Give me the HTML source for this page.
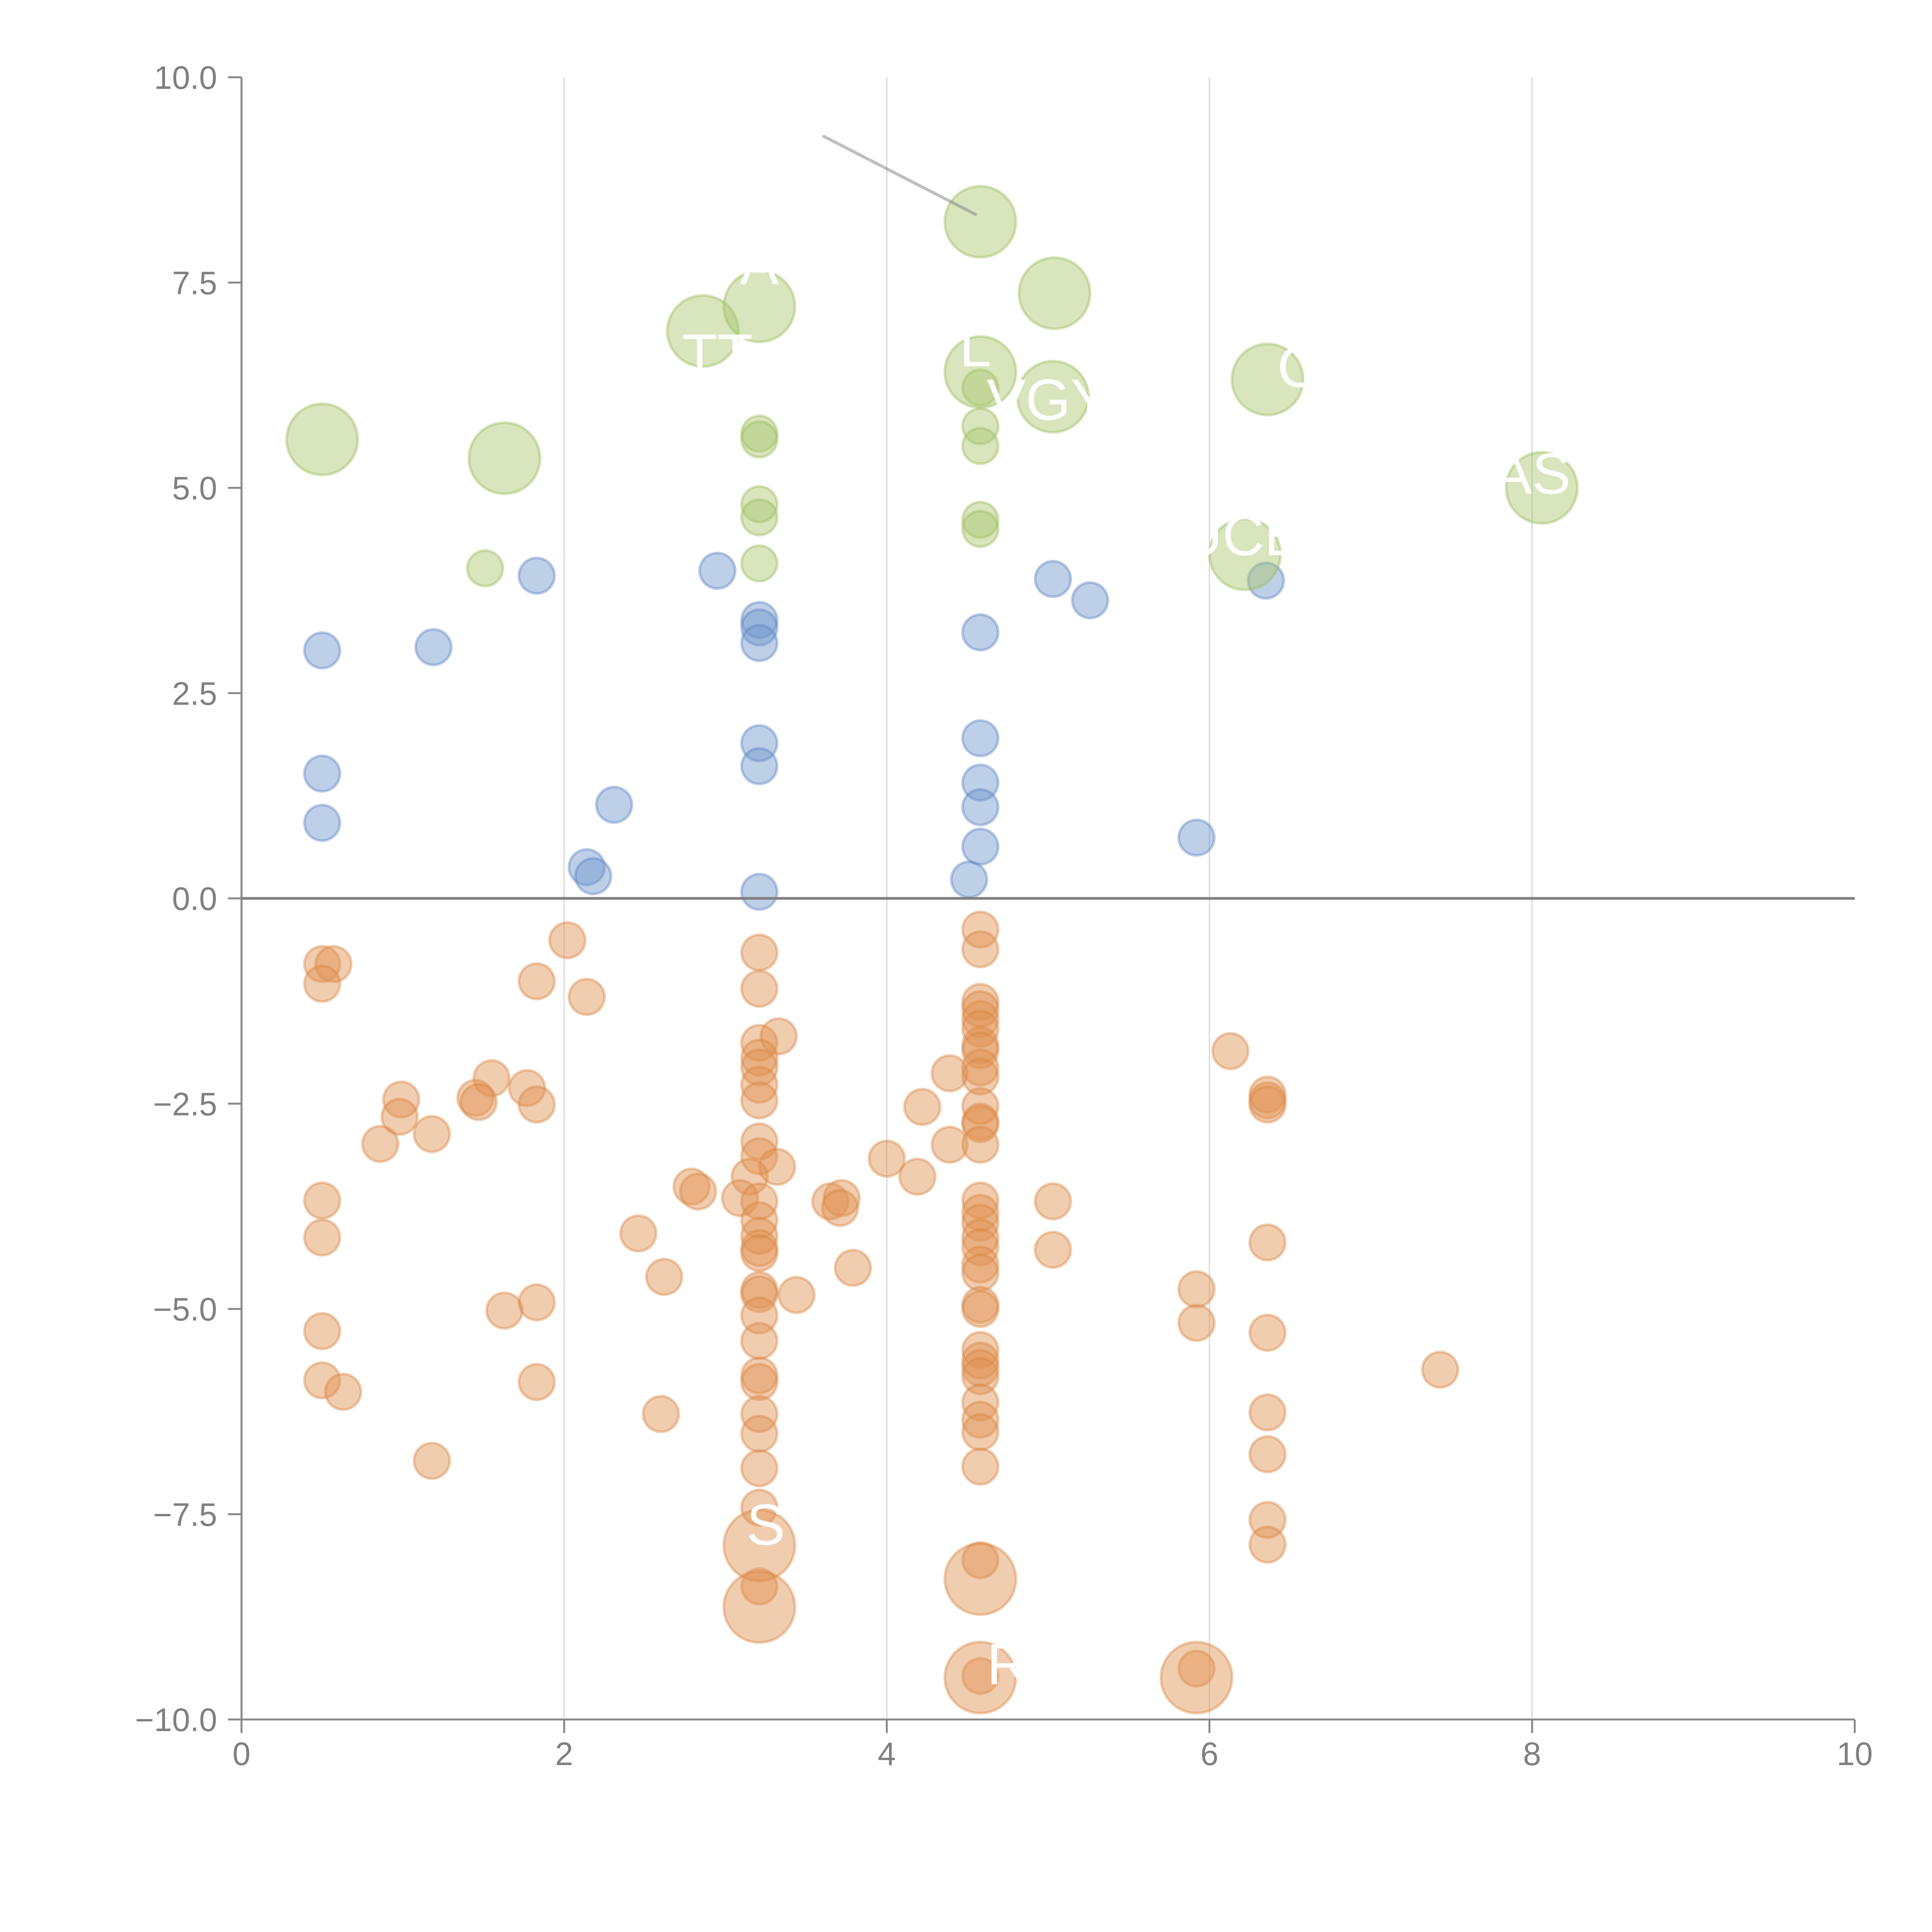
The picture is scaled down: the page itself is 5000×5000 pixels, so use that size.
<!DOCTYPE html>
<html><head><meta charset="utf-8"><style>
html,body{margin:0;padding:0;background:#fff;}
svg{display:block;font-family:"Liberation Sans",sans-serif;}
</style></head><body>
<svg id="chart" width="5000" height="5000" viewBox="0 0 5000 5000" xmlns="http://www.w3.org/2000/svg">
<rect width="5000" height="5000" fill="#fff"/>
<g id="grid"></g><g id="marks"></g><g id="axes"></g><g id="labels"></g>
</svg>
<script>
const xTicks=[0,2,4,6,8,10];
const xTickLabels=["0","2","4","6","8","10"];
const yTicks=[10,7.5,5,2.5,0,-2.5,-5,-7.5,-10];
const yTickLabels=["10.0","7.5","5.0","2.5","0.0","\u22122.5","\u22125.0","\u22127.5","\u221210.0"];

const blueX=[0.5,1.19,1.83,2.95,0.5,0.5,2.31,2.14,2.18,3.21,3.21,3.21,3.21,3.21,3.21,5.03,5.26,6.35,4.58,4.58,4.58,4.58,4.58,4.51,5.92];
const blueY=[3.02,3.06,3.93,3.99,1.52,0.92,1.14,0.38,0.27,3.39,3.3,3.11,1.89,1.61,0.08,3.89,3.63,3.87,3.24,1.95,1.41,1.11,0.63,0.23,0.74];

const greenX=[1.51,3.21,3.21,3.21,3.21,3.21,4.58,4.58,4.58,4.58,4.58,0.5,1.63,2.86,3.21,4.58,5.04,4.58,5.03,6.36,8.06,6.22];
const greenY=[4.02,5.66,5.59,4.8,4.64,4.08,6.22,5.75,5.51,4.61,4.5,5.59,5.36,6.91,7.21,8.24,7.37,6.41,6.11,6.32,5.0,4.19];
const greenS=[1,1,1,1,1,1,1,1,1,1,1,4,4,4,4,4,4,4,4,4,4,4];

const orangeX=[0.5,0.57,0.5,2.02,1.83,2.14,3.21,3.21,3.21,3.33,3.21,3.21,3.21,3.21,3.21,3.21,3.32,3.15,3.09,3.21,3.21,3.21,3.21,3.21,3.21,3.21,3.44,3.21,3.21,3.21,3.21,3.21,3.21,3.21,3.21,3.21,
1.55,1.77,1.45,1.47,1.83,0.99,0.98,0.86,1.18,0.5,0.5,0.5,0.5,0.63,1.18,1.83,1.63,1.83,2.46,2.62,2.6,2.79,2.83,3.65,3.72,3.71,3.79,4.0,4.19,4.22,4.39,4.39,
4.58,4.58,4.58,4.58,4.58,4.58,4.58,4.58,4.58,4.58,4.58,4.58,4.58,4.58,4.58,4.58,4.58,4.58,4.58,4.58,4.58,4.58,4.58,4.58,4.58,4.58,4.58,4.58,4.58,4.58,4.58,4.58,
5.03,5.03,6.13,6.36,6.36,6.36,6.36,6.36,6.36,6.36,6.36,6.36,5.92,5.92,5.92,7.43,4.58,
3.21,3.21,4.58,4.58,5.92];
const orangeY=[-0.8,-0.8,-1.04,-0.51,-1.01,-1.2,-0.66,-1.1,-1.76,-1.68,-1.94,-2.06,-2.27,-2.46,-2.96,-3.14,-3.27,-3.39,-3.65,-3.69,-3.92,-4.11,-4.26,-4.32,-4.77,-4.82,-4.83,-5.08,-5.39,-5.81,-5.89,-6.28,-6.52,-6.94,-7.42,-8.38,
-2.19,-2.31,-2.43,-2.48,-2.51,-2.45,-2.66,-2.99,-2.87,-3.68,-4.13,-5.27,-5.87,-6.01,-6.85,-4.92,-5.02,-5.89,-4.08,-4.61,-6.28,-3.51,-3.57,-3.69,-3.65,-3.77,-4.5,-3.17,-3.39,-2.54,-2.13,-3.0,
-0.38,-0.62,-1.26,-1.35,-1.47,-1.59,-1.79,-1.85,-2.06,-2.17,-2.53,-2.72,-2.75,-3.0,-3.68,-3.83,-3.95,-4.13,-4.25,-4.46,-4.56,-4.95,-5.0,-5.5,-5.63,-5.72,-5.82,-6.14,-6.35,-6.5,-6.92,-8.06,
-3.69,-4.28,-1.86,-2.39,-2.46,-2.51,-4.19,-5.29,-6.26,-6.77,-7.57,-7.87,-4.76,-5.17,-9.38,-5.74,-9.47,
-7.88,-8.63,-8.29,-9.49,-9.49];
const orangeS=orangeX.map((v,i)=>i>=orangeX.length-5?4:1);

const labelText=["TT","A","L","VGY","C","UCE","AS","S","R"];
const labelX=[2.95,3.21,4.55,5.0,6.55,6.2,8.0,3.25,4.75];
const labelY=[6.38,7.48,6.48,5.83,6.23,4.18,4.93,-7.87,-9.57];

const X0=625,X1=4800,Y0=4450,Y1=200;
const xs=v=>X0+(v-0)/(10-0)*(X1-X0);
const ys=v=>Y0-(v+10)/20*(Y0-Y1);
const rs=s=>46*Math.sqrt(s);
const NS="http://www.w3.org/2000/svg";
function mk(tag,attrs,parent){const e=document.createElementNS(NS,tag);for(const k in attrs)e.setAttribute(k,attrs[k]);parent.appendChild(e);return e;}
const grid=document.getElementById('grid'),marks=document.getElementById('marks'),axes=document.getElementById('axes'),labels=document.getElementById('labels');

xTicks.forEach((t,i)=>{
  if(t>0&&t<10){const g=mk('line',{x1:xs(t),x2:xs(t),y1:ys(10),y2:ys(-10),stroke:'#d6d6d6','stroke-width':3},grid);
  
  }
  const tk=mk('line',{x1:xs(t),x2:xs(t),y1:Y0,y2:Y0+35,stroke:'#888','stroke-width':5},axes);
  
  
  const tl=mk('text',{x:xs(t),y:Y0+118,'text-anchor':'middle','font-size':84,fill:'#808080'},axes);
  tl.textContent=xTickLabels[i];
  
  
});
yTicks.forEach((t,i)=>{
  const tk=mk('line',{x1:X0-35,x2:X0,y1:ys(t),y2:ys(t),stroke:'#888','stroke-width':5},axes);
  
  
  const tl=mk('text',{x:X0-63,y:ys(t)+30,'text-anchor':'end','font-size':84,fill:'#808080'},axes);
  tl.textContent=yTickLabels[i];
  
  
});
const ya=mk('line',{x1:X0,x2:X0,y1:Y1,y2:Y0,stroke:'#888','stroke-width':5},axes);


const xa=mk('line',{x1:X0,x2:X1,y1:Y0,y2:Y0,stroke:'#888','stroke-width':5},axes);


const zl=mk('line',{x1:X0,x2:X1,y1:ys(0),y2:ys(0),stroke:'#808080','stroke-width':7},axes);



function series(xsArr,ysArr,sArr,fill,stroke,name){
  xsArr.forEach((x,i)=>{
    const c=mk('circle',{cx:xs(x),cy:ys(ysArr[i]),r:rs(sArr?sArr[i]:1),fill:fill,'fill-opacity':0.45,stroke:stroke,'stroke-opacity':0.4,'stroke-width':7},marks);
    
    
  });
}
series(blueX,blueY,null,'#6f94cc','#5a82c2','blue-bubble');
series(orangeX,orangeY,orangeS,'#e09050','#d98440','orange-bubble');
series(greenX,greenY,greenS,'#a8c66c','#98bb58','green-bubble');

const gl=mk('line',{x1:xs(3.61),y1:ys(9.28),x2:xs(4.55),y2:ys(8.33),stroke:'#808080','stroke-opacity':0.5,'stroke-width':8,'stroke-linecap':'round'},labels);


labelText.forEach((t,i)=>{
  const tx=mk('text',{x:xs(labelX[i]),y:ys(labelY[i]),'text-anchor':'middle','font-size':150,fill:'#fff'},labels);
  tx.textContent=t;
  
  
});
</script>
</body></html>
